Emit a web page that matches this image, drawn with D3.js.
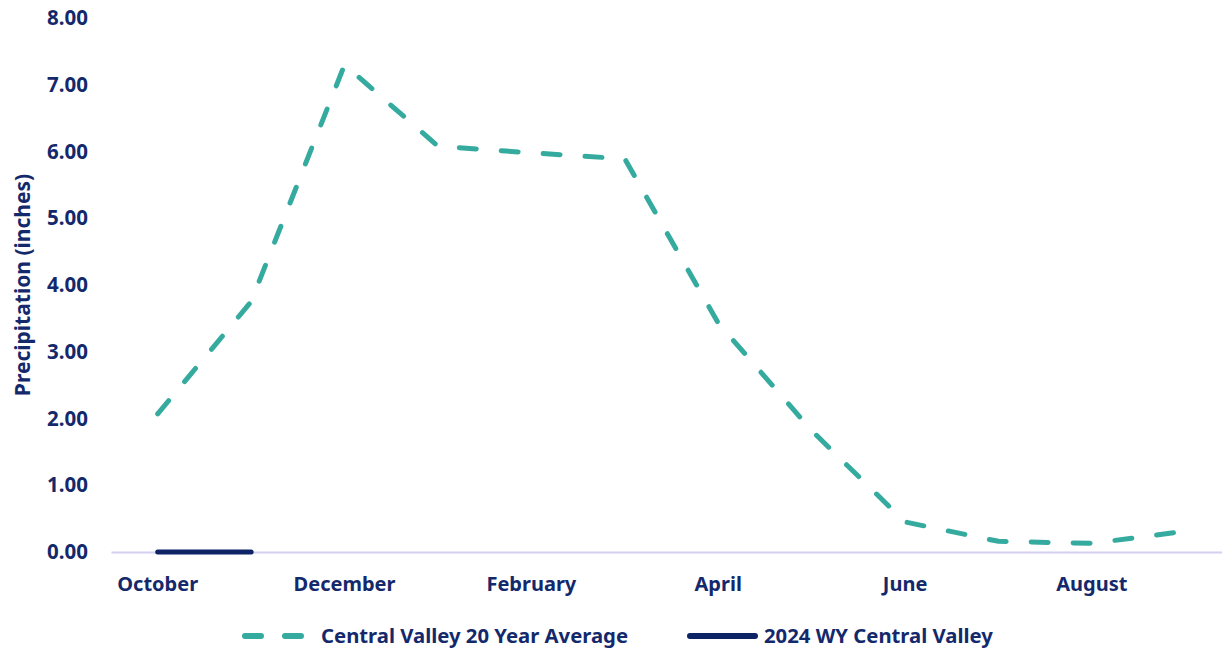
<!DOCTYPE html>
<html>
<head>
<meta charset="utf-8">
<script src="https://cdn.jsdelivr.net/npm/d3@7"></script>
<style>
  html, body { margin: 0; padding: 0; background: #fff; }
  svg { display: block; font-family: "Noto Sans", "Open Sans", sans-serif; font-weight: bold; }
</style>
</head>
<body>
<div id="chart"></div>
<script>
const months = ["October", "November", "December", "January", "February", "March",
                "April", "May", "June", "July", "August", "September"];
const avgValues = [2.07, 3.75, 7.30, 6.08, 5.98, 5.89, 3.43, 1.82, 0.45, 0.16, 0.13, 0.31];
const wy2024Values = [0.00, 0.00];
const yTicks = [0, 1, 2, 3, 4, 5, 6, 7, 8];
const seriesNames = ["Central Valley 20 Year Average", "2024 WY Central Valley"];

const width = 1222, height = 649;
const textColor = "#14296b";
const teal = "#35ab9f";
const navy = "#0c2366";

const svg = d3.select("#chart").append("svg")
    .attr("width", width)
    .attr("height", height);

const x = d3.scaleBand()
    .domain(months)
    .range([111, 1232]);

const y = d3.scaleLinear()
    .domain([0, 8])
    .range([552, 18]);

const px = d => x(d) + x.bandwidth() / 2;

// y axis labels
const yAxis = svg.append("g")
    .attr("transform", "translate(88,0)")
    .call(d3.axisLeft(y).tickValues(yTicks).tickFormat(d3.format(".2f")).tickSize(0).tickPadding(0));
yAxis.select(".domain").remove();
yAxis.selectAll("text")
    .attr("fill", textColor)
    .attr("font-size", "20.5px")
    .attr("font-family", "Noto Sans")
    .attr("font-weight", "bold");

// axis title
svg.append("text")
    .attr("transform", "translate(30,285) rotate(-90)")
    .attr("text-anchor", "middle")
    .attr("fill", textColor)
    .attr("font-size", "21px")
    .text("Precipitation (inches)");

// x axis (baseline)
const xAxis = svg.append("g")
    .attr("transform", `translate(0,${y(0)})`)
    .call(d3.axisBottom(x).tickValues(months.filter((m, i) => i % 2 === 0)).tickSize(0).tickPadding(25));
xAxis.select(".domain")
    .attr("stroke", "#d4d0f0")
    .attr("stroke-width", 2);
xAxis.selectAll("text")
    .attr("fill", textColor)
    .attr("font-size", "20px")
    .attr("font-family", "Noto Sans")
    .attr("font-weight", "bold");

const line = d3.line()
    .x((d, i) => px(months[i]))
    .y(d => y(d));

svg.append("path")
    .datum(avgValues)
    .attr("d", line)
    .attr("fill", "none")
    .attr("stroke", teal)
    .attr("stroke-width", 5)
    .attr("stroke-linecap", "round")
    .attr("stroke-linejoin", "round")
    .attr("stroke-dasharray", "17,25");

svg.append("path")
    .datum(wy2024Values)
    .attr("d", line)
    .attr("fill", "none")
    .attr("stroke", navy)
    .attr("stroke-width", 5)
    .attr("stroke-linecap", "round");

// legend
const legend = svg.append("g").attr("transform", "translate(0,636)");
legend.append("line")
    .attr("x1", 245).attr("x2", 307)
    .attr("stroke", teal).attr("stroke-width", 6)
    .attr("stroke-linecap", "round")
    .attr("stroke-dasharray", "16,24");
legend.append("text")
    .attr("x", 321).attr("dy", "0.35em")
    .attr("fill", textColor).attr("font-size", "20.3px")
    .text(seriesNames[0]);
legend.append("line")
    .attr("x1", 690).attr("x2", 755)
    .attr("stroke", navy).attr("stroke-width", 6)
    .attr("stroke-linecap", "round");
legend.append("text")
    .attr("x", 764).attr("dy", "0.35em")
    .attr("fill", textColor).attr("font-size", "20.3px")
    .text(seriesNames[1]);
</script>
</body>
</html>
